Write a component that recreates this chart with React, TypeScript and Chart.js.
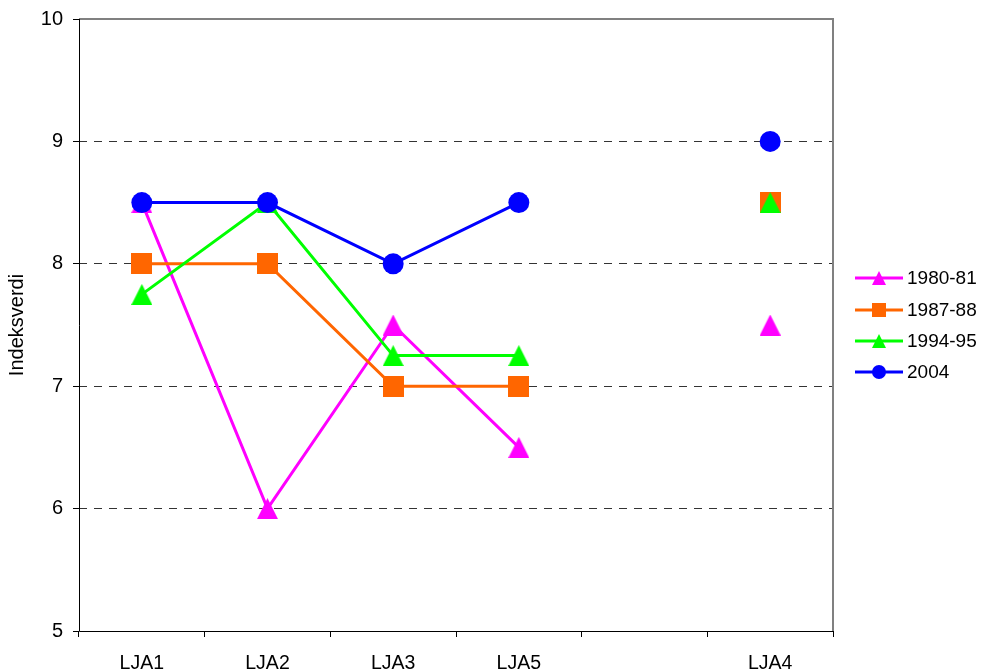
import React, { useEffect, useRef } from "react";
import { Chart, registerables } from "chart.js";

Chart.register(...registerables);

const categories = ["LJA1", "LJA2", "LJA3", "LJA5", "", "LJA4"];
const yTickValues = [5, 6, 7, 8, 9, 10];

const series1980 = [8.5, 6, 7.5, 6.5, null, 7.5];
const series1987 = [8, 8, 7, 7, null, 8.5];
const series1994 = [7.75, 8.5, 7.25, 7.25, null, 8.5];
const series2004 = [8.5, 8.5, 8, 8.5, null, 9];

const seriesNames = ["1980-81", "1987-88", "1994-95", "2004"];
const seriesColors = ["#FF00FF", "#FF6600", "#00FF00", "#0000FF"];
const seriesMarkers = ["triangle", "square", "triangle", "circle"];

const FONT = "'Liberation Sans', Arial, sans-serif";

function drawMarker(ctx: CanvasRenderingContext2D, kind: string, cx: number, cy: number, s: number, color: string) {
  const h = s / 2;
  ctx.save();
  ctx.fillStyle = color;
  ctx.beginPath();
  if (kind === "triangle") {
    ctx.moveTo(cx, cy - h);
    ctx.lineTo(cx + h, cy + h);
    ctx.lineTo(cx - h, cy + h);
    ctx.closePath();
  } else if (kind === "square") {
    ctx.rect(cx - h, cy - h, s, s);
  } else {
    ctx.arc(cx, cy, h, 0, Math.PI * 2);
  }
  ctx.fill();
  ctx.restore();
}

function markerImage(kind: string, color: string, size: number): HTMLCanvasElement {
  const c = document.createElement("canvas");
  c.width = size;
  c.height = size;
  const ctx = c.getContext("2d")!;
  drawMarker(ctx, kind, size / 2, size / 2, size, color);
  return c;
}

const framePlugin = {
  id: "frameAndLegend",
  afterDatasetsDraw(chart: any) {
    const { ctx, chartArea } = chart;
    const { left, right, top, bottom } = chartArea;
    ctx.save();
    // top and right frame
    ctx.strokeStyle = "#808080";
    ctx.lineWidth = 2;
    ctx.beginPath();
    ctx.moveTo(left, top);
    ctx.lineTo(right, top);
    ctx.lineTo(right, bottom);
    ctx.stroke();
    // left and bottom axes
    ctx.strokeStyle = "#000000";
    ctx.lineWidth = 1;
    ctx.beginPath();
    ctx.moveTo(left + 0.5, top);
    ctx.lineTo(left + 0.5, bottom + 0.5);
    ctx.lineTo(right, bottom + 0.5);
    ctx.stroke();

    // y axis title
    ctx.save();
    ctx.translate(17, (top + bottom) / 2);
    ctx.rotate(-Math.PI / 2);
    ctx.fillStyle = "#000";
    ctx.font = `20px ${FONT}`;
    ctx.textAlign = "center";
    ctx.textBaseline = "middle";
    ctx.fillText("Indeksverdi", 0, 0);
    ctx.restore();

    // legend
    const lx0 = 855;
    const lx1 = 903;
    const ys = [278, 310, 341, 372];
    ctx.font = `19px ${FONT}`;
    ctx.textBaseline = "middle";
    ctx.textAlign = "left";
    seriesNames.forEach((name, i) => {
      const y = ys[i];
      ctx.strokeStyle = seriesColors[i];
      ctx.lineWidth = 3;
      ctx.beginPath();
      ctx.moveTo(lx0, y);
      ctx.lineTo(lx1, y);
      ctx.stroke();
      drawMarker(ctx, seriesMarkers[i], (lx0 + lx1) / 2, y, 14, seriesColors[i]);
      ctx.fillStyle = "#000";
      ctx.fillText(name, 907, y + 1);
    });
    ctx.restore();
  },
};

export default function App() {
  const ref = useRef<HTMLCanvasElement | null>(null);

  useEffect(() => {
    if (!ref.current) return;
    const all = [series1980, series1987, series1994, series2004];
    const datasets = all.map((data, i) => {
      const kind = seriesMarkers[i];
      return {
        label: seriesNames[i],
        data,
        borderColor: seriesColors[i],
        backgroundColor: seriesColors[i],
        borderWidth: 3,
        pointStyle: kind === "circle" ? "circle" : markerImage(kind, seriesColors[i], 21),
        pointRadius: 10.5,
        pointBorderWidth: 0,
        pointBackgroundColor: seriesColors[i],
        pointBorderColor: seriesColors[i],
        spanGaps: false,
        tension: 0,
        order: 3 - i,
      };
    });

    const chart = new Chart(ref.current, {
      type: "line",
      data: { labels: categories, datasets: datasets as any },
      options: {
        responsive: false,
        animation: false,
        layout: { padding: { left: 0, right: 153, top: 19, bottom: 0 } },
        plugins: { legend: { display: false }, tooltip: { enabled: false } },
        scales: {
          x: {
            type: "category",
            offset: true,
            grid: {
              offset: true,
              drawOnChartArea: false,
              drawTicks: true,
              tickLength: 6,
              tickColor: "#000",
              tickWidth: 1,
            },
            border: { display: false },
            ticks: {
              color: "#000",
              font: { family: FONT, size: 19.5 },
              padding: 15,
              maxRotation: 0,
              autoSkip: false,
            },
            afterFit(scale: any) {
              scale.height = 40;
              scale.paddingLeft = 0;
              scale.paddingRight = 0;
            },
          },
          y: {
            min: yTickValues[0],
            max: yTickValues[yTickValues.length - 1],
            afterBuildTicks(scale: any) {
              scale.ticks = yTickValues.map((v) => ({ value: v }));
            },
            grid: {
              color: (c: any) =>
                c.tick && (c.tick.value === 5 || c.tick.value === 10) ? "rgba(0,0,0,0)" : "#333333",
              lineWidth: 1,
              drawTicks: true,
              tickLength: 6,
              tickColor: "#000",
              tickWidth: 1,
              tickBorderDash: [],
            },
            border: { display: false, dash: [8, 7] },
            ticks: {
              color: "#000",
              font: { family: FONT, size: 20 },
              padding: 10,
            },
            afterFit(scale: any) {
              scale.width = 79;
              scale.paddingTop = 0;
              scale.paddingBottom = 0;
            },
          },
        },
      },
      plugins: [framePlugin],
    });
    return () => chart.destroy();
  }, []);

  return (
    <div style={{ position: "fixed", left: 0, top: 0, width: 986, height: 671, background: "#fff" }}>
      <canvas ref={ref} width={986} height={671} style={{ display: "block" }} />
    </div>
  );
}
